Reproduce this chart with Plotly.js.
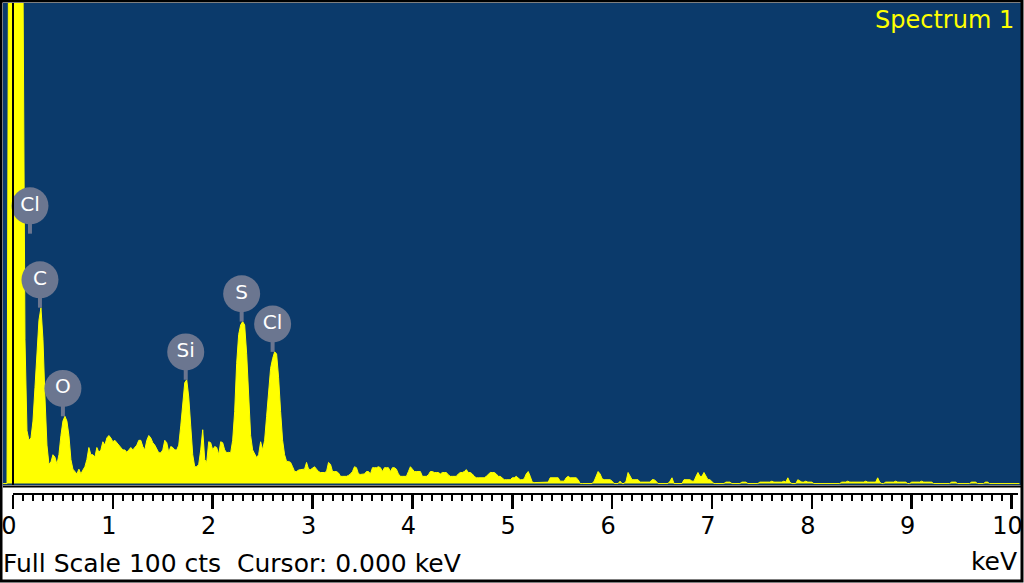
<!DOCTYPE html>
<html>
<head>
<meta charset="utf-8">
<script src="https://cdn.plot.ly/plotly-3.0.1.min.js"></script>
<style>
  html, body { margin: 0; padding: 0; background: #ffffff; }
  #chart { width: 1024px; height: 583px; }
</style>
</head>
<body>
<div id="chart"></div>
<script>
// ---- Data ----
const spectrumName = 'Spectrum 1';
const fullScaleCounts = 100;
const cursorKeV = 0.000;
const energyStartKeV = -0.10;   // first channel
const channelWidthKeV = 0.02;   // channel width

// counts per channel, rows of 0.5 keV
const counts = [
  0, 0, 0, 150, 400,
  500, 450, 350, 250, 180, 110, 30, 11, 9, 9.5, 13, 20, 28, 34, 36.6, 30, 18, 8, 4, 4.5, 6, 5.5, 4, 6, 10,
  13, 14, 13, 10, 5, 3, 2.5, 2, 3, 2, 2.8, 3.5, 5, 7.5, 6, 6, 5.5, 7.5, 6.5, 7, 8.7, 8, 9.5, 10, 9.5,
  8.7, 9, 8.5, 8, 7.5, 7, 7, 6.5, 7, 7.5, 7, 7.5, 8, 9, 9, 7.7, 7, 9, 10, 9.5, 8.5, 8, 7, 6.4, 6.4,
  7, 9, 8.5, 6.5, 7.7, 7.5, 7, 7, 8, 12, 17, 21, 21.6, 18, 12, 6, 3.5, 3.5, 4, 7, 11.2, 5, 4.4, 8.7, 8.5,
  7, 7.7, 7.5, 6, 8.7, 8.5, 7, 6.4, 6.5, 6.4, 9, 15, 25, 31, 33, 33.7, 33, 27, 18, 10, 7, 6, 5.4, 6, 8.7,
  7, 9, 14, 20, 24, 26, 27.4, 27, 22, 15, 9, 6, 4.6, 4.6, 4.4, 3.5, 2.5, 2.5, 2.8, 2.9, 2.9, 3, 4.4, 3, 2.9,
  3.3, 3.5, 3, 2.5, 2.3, 2.3, 2.3, 2.5, 4.4, 4, 2.5, 2.5, 2.5, 2.2, 1.5, 1.5, 1.5, 1.5, 1.7, 2, 2.5, 3.5, 3.3, 2, 1.9,
  1.9, 2, 2.5, 2.5, 2, 3.3, 3.3, 3.3, 3.5, 3.3, 2.5, 3.3, 3.3, 3.3, 2.5, 3.3, 3.3, 3, 2, 1.5, 1.5, 1.5, 1.5, 2.5, 3.5,
  3, 2.5, 2.5, 2.5, 2.5, 1.5, 1.5, 1.5, 1.8, 2.5, 2.5, 2.3, 2.3, 2.3, 2, 2.3, 2.3, 2.3, 1.8, 1.5, 1.5, 1.5, 1.5, 2, 2.3,
  2.3, 2.5, 2.9, 2.3, 2.3, 2, 1.5, 1.2, 1.2, 1.2, 1.2, 1.2, 1.5, 2, 2.3, 2.3, 2.3, 2, 1.5, 1.5, 1.2, 0.8, 0.8, 0.8, 0.8,
  1.2, 1.2, 1.5, 1.2, 0.8, 0.8, 1, 2, 2.5, 1.5, 0.3, 0.2, 0.2, 0.2, 0.2, 0.2, 0.2, 0.2, 0.3, 1.2, 1.2, 1.2, 1.2, 1.2, 0.5,
  0.5, 0.5, 1.2, 1.5, 1.2, 1.2, 1.2, 1.2, 0.8, 0, 0, 0, 0, 0, 0, 0, 0.5, 1.5, 2.5, 2, 1, 0.8, 0.8, 0.8, 0.8,
  0.5, 0, 0, 0, 0.5, 0, 0, 0.5, 2.3, 1.5, 0.8, 0.8, 0.8, 0.8, 0.3, 0.3, 0.3, 0.3, 0.3, 0.3, 0.8, 0.8, 0.5, 0, 0,
  0, 0, 0, 0, 0.5, 1.2, 0, 0, 0, 0, 0, 0.8, 0.8, 0.8, 0.8, 0.5, 0.5, 1.5, 2.3, 1.5, 1.5, 2.3, 1.5, 0.8, 0.8,
  0.3, 0, 0, 0, 0, 0, 0, 0.3, 0.3, 0.3, 0, 0, 0, 0, 0, 0.3, 0.3, 0.3, 0, 0, 0, 0, 0, 0, 0.3,
  0.3, 0.3, 0.3, 0.3, 0.3, 0.5, 0.3, 0.3, 0.3, 0.3, 0.3, 0.5, 0.3, 1.2, 0.3, 0, 0, 0, 0.8, 0.5, 0.3, 0.3, 0.5, 0.3, 0.3,
  0.3, 0, 0, 0, 0, 0, 0, 0, 0, 0, 0, 0, 0, 0, 0, 0.3, 0.3, 0.3, 0.5, 0.3, 0.3, 0.3, 0.3, 0.3, 0.3,
  0.3, 0.3, 0.5, 0.3, 0.3, 0.3, 0.3, 0.3, 1.2, 0.3, 0, 0, 0.3, 0.3, 0.3, 0.3, 0.3, 0.5, 0.3, 0.3, 0.3, 0.3, 0.3, 0, 0,
  0.3, 0.3, 0.3, 0.3, 0.3, 0.5, 0.3, 0.3, 0.3, 0.3, 0.3, 0, 0, 0, 0, 0, 0, 0, 0, 0, 0.3, 0.3, 0.3, 0, 0,
  0, 0, 0, 0, 0, 0.3, 0.3, 0.3, 0, 0, 0, 0, 0.3, 0.3, 0, 0, 0, 0, 0, 0, 0, 0, 0, 0, 0,
  0, 0, 0, 0, 0
];

// peak labels
const peakElements = ['Cl', 'C', 'O', 'Si', 'S', 'Cl'];
const peakEnergies = [0.17, 0.27, 0.50, 1.73, 2.29, 2.60];
const peakCounts   = [52, 36.6, 14, 21.6, 33.7, 27.4];

// axis ticks
const majorTicks = [0, 1, 2, 3, 4, 5, 6, 7, 8, 9, 10];
const tickLabels = ['0', '1', '2', '3', '4', '5', '6', '7', '8', '9', '10'];
const axisUnit = 'keV';

// ---- Build ----
const energies = counts.map((_, i) => +(energyStartKeV + i * channelWidthKeV).toFixed(2));
const minorTicks = [];
for (let i = 0; i <= 100; i++) minorTicks.push(+(i * 0.1).toFixed(1));

const W = 1024, H = 583;
const px = v => v / W;
const py = v => 1 - v / H;
const kevPerPx = 1 / 99.85;
const xMin = -10 * kevPerPx;
const xMax = (1021 - 13) * kevPerPx;

const FONT = 'DejaVu Sans, Verdana, sans-serif';
const labelLift = 5.8;         // counts between peak top and label centre
const bubbleColor = '#6b7690';

const stemX = [], stemY = [];
peakEnergies.forEach((e, i) => {
  stemX.push(e, e, null);
  stemY.push(peakCounts[i], peakCounts[i] + labelLift, null);
});
const labelY = peakCounts.map(c => c + labelLift);

const traces = [
  {
    type: 'scatter', mode: 'lines',
    x: energies, y: counts,
    line: { color: '#ffff00', width: 1 },
    fill: 'tozeroy', fillcolor: '#ffff00',
    hoverinfo: 'skip', showlegend: false
  },
  {
    type: 'scatter', mode: 'lines',
    x: stemX, y: stemY,
    line: { color: bubbleColor, width: 4 },
    hoverinfo: 'skip', showlegend: false
  },
  {
    type: 'scatter', mode: 'markers+text',
    x: peakEnergies, y: labelY,
    text: peakElements,
    textposition: 'middle center',
    textfont: { family: FONT, size: 20, color: '#ffffff' },
    marker: { size: 37, color: bubbleColor, line: { width: 0 } },
    hoverinfo: 'skip', showlegend: false, cliponaxis: false
  }
];

const layout = {
  width: W, height: H,
  margin: { l: 0, r: 0, t: 0, b: 0 },
  paper_bgcolor: '#ffffff',
  plot_bgcolor: '#0b3a6b',
  showlegend: false,
  xaxis: {
    domain: [px(3), px(1021)],
    range: [xMin, xMax],
    anchor: 'free',
    position: py(494),
    showline: false, showgrid: false, zeroline: false,
    ticks: 'outside',
    tickmode: 'array',
    tickvals: majorTicks, ticktext: tickLabels,
    ticklen: 14, tickwidth: 2.5, tickcolor: '#000000',
    ticklabeloverflow: 'allow',
    ticklabelstandoff: -4,
    ticklabelshift: -4,
    tickfont: { family: FONT, size: 24, color: '#000000' },
    minor: { tickmode: 'array', tickvals: minorTicks, ticks: 'outside', ticklen: 6, tickwidth: 2, tickcolor: '#000000', showgrid: false },
    fixedrange: true, automargin: false
  },
  yaxis: {
    domain: [py(485), py(3)],
    range: [-0.3, fullScaleCounts],
    visible: false, showgrid: false, zeroline: false,
    fixedrange: true
  },
  shapes: [
    // cursor line
    { type: 'line', xref: 'x', yref: 'paper', x0: cursorKeV, x1: cursorKeV, y0: py(485), y1: py(3),
      line: { color: '#000000', width: 2 } },
    // plot bottom edge
    { type: 'line', xref: 'paper', yref: 'paper', x0: px(3), x1: px(1021), y0: py(486.5), y1: py(486.5),
      line: { color: '#000000', width: 2 } },
    // ruler line
    { type: 'line', xref: 'x', yref: 'paper', x0: majorTicks[0], x1: xMax - 0.03, y0: py(494), y1: py(494),
      line: { color: '#000000', width: 2 } },
    // outer frame
    { type: 'rect', xref: 'paper', yref: 'paper', x0: px(1), x1: px(1022), y0: py(581), y1: py(1),
      line: { color: '#000000', width: 3 }, fillcolor: 'rgba(0,0,0,0)' }
  ],
  annotations: [
    { xref: 'paper', yref: 'paper', x: px(1016), y: py(20), xanchor: 'right', yanchor: 'middle',
      text: spectrumName, showarrow: false, font: { family: FONT, size: 24, color: '#ffff00' } },
    { xref: 'paper', yref: 'paper', x: px(1), y: py(563), xanchor: 'left', yanchor: 'middle',
      text: 'Full Scale ' + fullScaleCounts + ' cts \u00a0Cursor: ' + cursorKeV.toFixed(3) + ' ' + axisUnit,
      showarrow: false, font: { family: FONT, size: 25, color: '#000000' } },
    { xref: 'paper', yref: 'paper', x: px(1019), y: py(561), xanchor: 'right', yanchor: 'middle',
      text: axisUnit, showarrow: false, font: { family: FONT, size: 25, color: '#000000' } }
  ]
};

Plotly.newPlot('chart', traces, layout, { displayModeBar: false, staticPlot: true });
</script>
</body>
</html>
